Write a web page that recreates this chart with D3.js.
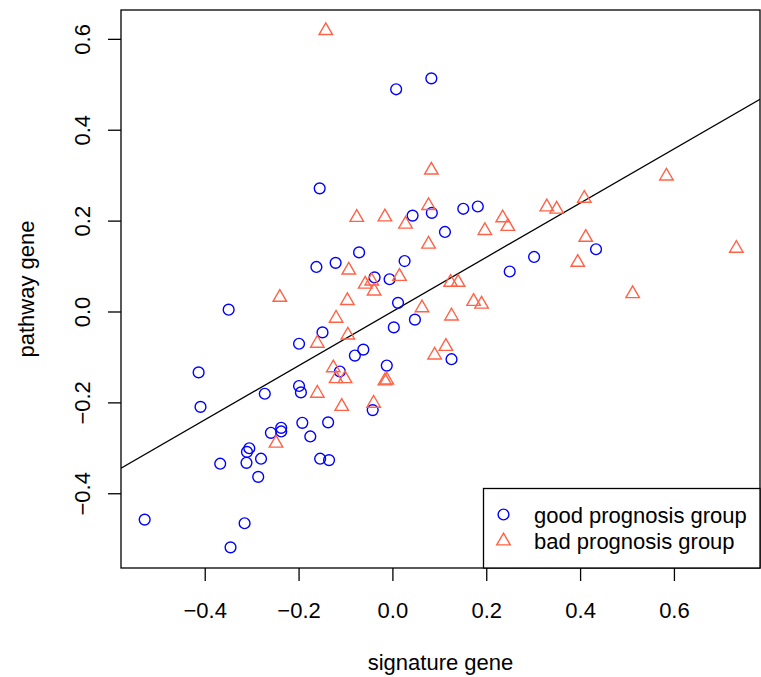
<!DOCTYPE html>
<html>
<head>
<meta charset="utf-8">
<script src="https://cdn.jsdelivr.net/npm/d3@7"></script>
<style>
  body { margin: 0; background: #fff; }
  text { font-family: "Liberation Sans", Arial, sans-serif; font-size: 22px; fill: #000; }
</style>
</head>
<body>
<svg id="chart" width="761" height="677"></svg>
<script>
// good prognosis group (blue circles)
var goodX = [0.083, 0.008, -0.155, 0.043, 0.084, 0.151, 0.182, 0.112, -0.071, -0.121, -0.162, 0.026, 0.302, 0.250, 0.434, -0.038, -0.006, -0.349, 0.012, 0.048, 0.003, -0.149, -0.199, -0.062, -0.080, 0.126, -0.012, -0.112, -0.413, -0.199, -0.195, -0.272, -0.409, -0.042, -0.192, -0.137, -0.237, -0.237, -0.259, -0.175, -0.305, -0.310, -0.280, -0.367, -0.311, -0.154, -0.135, -0.286, -0.528, -0.315, -0.345];
var goodY = [0.513, 0.489, 0.271, 0.211, 0.217, 0.226, 0.231, 0.175, 0.130, 0.107, 0.098, 0.111, 0.120, 0.088, 0.137, 0.075, 0.071, 0.004, 0.019, -0.018, -0.035, -0.046, -0.071, -0.084, -0.097, -0.105, -0.119, -0.132, -0.134, -0.164, -0.178, -0.181, -0.210, -0.217, -0.245, -0.244, -0.256, -0.264, -0.267, -0.275, -0.301, -0.309, -0.324, -0.335, -0.333, -0.324, -0.327, -0.364, -0.458, -0.466, -0.519];

// bad prognosis group (tomato triangles)
var badX = [-0.142, 0.083, 0.584, 0.409, -0.076, -0.016, 0.028, 0.077, 0.235, 0.246, 0.197, 0.077, 0.329, 0.350, 0.412, 0.395, 0.733, 0.512, -0.093, 0.015, -0.058, -0.044, -0.039, 0.124, 0.140, -0.240, -0.096, 0.173, 0.190, 0.063, -0.120, 0.126, -0.095, -0.160, 0.114, 0.090, -0.126, -0.120, -0.101, -0.016, -0.012, -0.160, -0.248, -0.108, -0.040];
var badY = [0.618, 0.311, 0.298, 0.249, 0.207, 0.208, 0.192, 0.233, 0.206, 0.187, 0.178, 0.148, 0.230, 0.225, 0.163, 0.108, 0.139, 0.039, 0.091, 0.077, 0.060, 0.067, 0.045, 0.064, 0.064, 0.031, 0.024, 0.022, 0.016, 0.008, -0.015, -0.010, -0.052, -0.070, -0.077, -0.096, -0.124, -0.148, -0.148, -0.153, -0.151, -0.180, -0.290, -0.209, -0.202];

// fitted line
var fitIntercept = 0.0;
var fitSlope = 0.596;

var xTicks = [-0.4, -0.2, 0.0, 0.2, 0.4, 0.6];
var yTicks = [-0.4, -0.2, 0.0, 0.2, 0.4, 0.6];
var legendLabels = ["good prognosis group", "bad prognosis group"];

var GOOD_COL = "#0000ff", BAD_COL = "#ff6347";
var LEFT = 121, RIGHT = 760, TOP = 10, BOTTOM = 568;

var svg = d3.select("#chart");

// R style 4% padding on the data range
function padded (vals) {
  var e = d3.extent(vals), p = (e[1] - e[0]) * 0.04;
  return [e[0] - p, e[1] + p];
}
var xDom = padded(goodX.concat(badX));
var yDom = padded(goodY.concat(badY));

var x = d3.scaleLinear().domain(xDom).range([LEFT, RIGHT]);
var y = d3.scaleLinear().domain(yDom).range([BOTTOM, TOP]);

var fmt = function(d) { return d3.format(".1f")(d).replace("-", "\u2212"); };

// x axis
var gx = svg.append("g")
  .attr("transform", "translate(0," + BOTTOM + ")")
  .call(d3.axisBottom(x).tickValues(xTicks).tickFormat(fmt).tickSize(13).tickPadding(21));
gx.select(".domain").remove();
gx.selectAll("line").attr("stroke", "#000").attr("stroke-width", 1.3);
gx.selectAll("text").style("font-size", "22px").attr("fill", "#000");

// y axis, labels rotated like R's las=0
var gy = svg.append("g")
  .attr("transform", "translate(" + LEFT + ",0)")
  .call(d3.axisLeft(y).tickValues(yTicks).tickFormat(fmt).tickSize(13));
gy.select(".domain").remove();
gy.selectAll("line").attr("stroke", "#000").attr("stroke-width", 1.3);
gy.selectAll("text")
  .attr("x", null).attr("dy", null)
  .attr("transform", "translate(-31,0) rotate(-90)")
  .attr("text-anchor", "middle")
  .style("font-size", "22px").attr("fill", "#000");

// axis titles
svg.append("text")
  .attr("x", (LEFT + RIGHT) / 2).attr("y", 670)
  .attr("text-anchor", "middle")
  .text("signature gene");
svg.append("text")
  .attr("transform", "translate(33.5," + (TOP + BOTTOM) / 2 + ") rotate(-90)")
  .attr("text-anchor", "middle")
  .text("pathway gene");

// clip for the regression line
svg.append("clipPath").attr("id", "plotclip")
  .append("rect").attr("x", LEFT).attr("y", TOP).attr("width", RIGHT - LEFT).attr("height", BOTTOM - TOP);

svg.append("line")
  .attr("clip-path", "url(#plotclip)")
  .attr("x1", x(xDom[0])).attr("y1", y(fitIntercept + fitSlope * xDom[0]))
  .attr("x2", x(xDom[1])).attr("y2", y(fitIntercept + fitSlope * xDom[1]))
  .attr("stroke", "#000").attr("stroke-width", 1.3);

var circleSym = d3.symbol().type(d3.symbolCircle).size(Math.PI * 5.4 * 5.4);
var triSym = d3.symbol().type(d3.symbolTriangle).size(79);

// points
svg.append("g").selectAll("path")
  .data(d3.range(goodX.length))
  .enter().append("path")
  .attr("d", circleSym)
  .attr("transform", function(i) { return "translate(" + x(goodX[i]) + "," + y(goodY[i]) + ")"; })
  .attr("fill", "none").attr("stroke", GOOD_COL).attr("stroke-width", 1.4);

svg.append("g").selectAll("path")
  .data(d3.range(badX.length))
  .enter().append("path")
  .attr("d", triSym)
  .attr("transform", function(i) { return "translate(" + x(badX[i]) + "," + y(badY[i]) + ")"; })
  .attr("fill", "none").attr("stroke", BAD_COL).attr("stroke-width", 1.4);

// plot box
svg.append("rect")
  .attr("x", LEFT).attr("y", TOP).attr("width", RIGHT - LEFT).attr("height", BOTTOM - TOP)
  .attr("fill", "none").attr("stroke", "#000").attr("stroke-width", 1.3);

// legend (bottom right)
var lg = svg.append("g");
lg.append("rect")
  .attr("x", 483.5).attr("y", 488.5).attr("width", RIGHT - 483.5).attr("height", BOTTOM - 488.5)
  .attr("fill", "#fff").attr("stroke", "#000").attr("stroke-width", 1.3);
var syms = [circleSym, triSym], cols = [GOOD_COL, BAD_COL];
legendLabels.forEach(function(lab, i) {
  var cy = 514.5 + i * 26.5;
  lg.append("path").attr("d", syms[i])
    .attr("transform", "translate(503.5," + cy + ")")
    .attr("fill", "none").attr("stroke", cols[i]).attr("stroke-width", 1.4);
  lg.append("text").attr("x", 534).attr("y", cy + 8).text(lab);
});
</script>
</body>
</html>
